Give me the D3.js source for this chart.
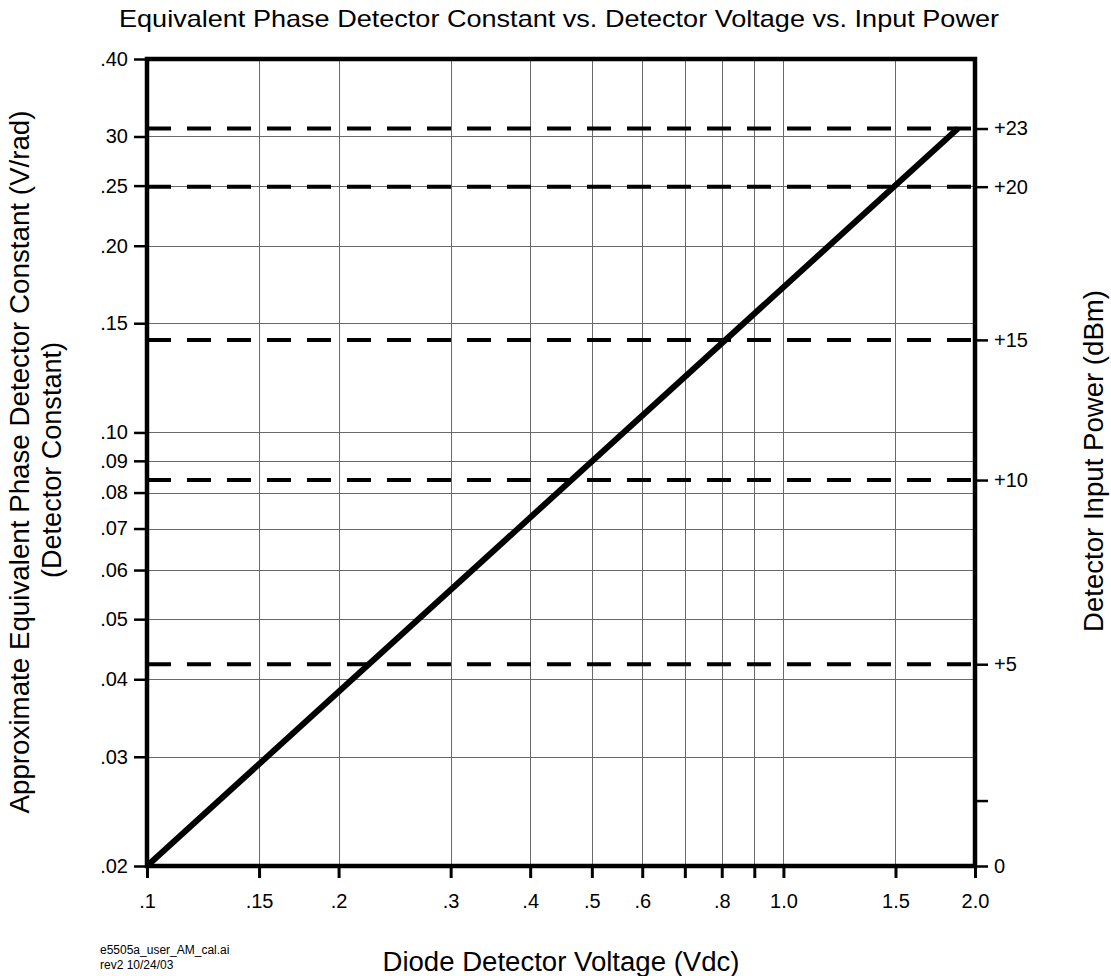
<!DOCTYPE html>
<html>
<head>
<meta charset="utf-8">
<script src="https://cdn.jsdelivr.net/npm/d3@7"></script>
<style>
  html, body { margin: 0; padding: 0; background: #fff; }
  svg { display: block; }
  text { font-family: "Liberation Sans", Arial, Helvetica, sans-serif; fill: #000; }
</style>
</head>
<body>
<svg id="chart" width="1111" height="976"></svg>
<script>
// ---- data ----
const xTicks = [0.1, 0.15, 0.2, 0.3, 0.4, 0.5, 0.6, 0.7, 0.8, 0.9, 1.0, 1.5, 2.0];
const xTickLabels = [".1", ".15", ".2", ".3", ".4", ".5", ".6", "", ".8", "", "1.0", "1.5", "2.0"];
const yTicks = [0.02, 0.03, 0.04, 0.05, 0.06, 0.07, 0.08, 0.09, 0.10, 0.15, 0.20, 0.25, 0.30, 0.40];
const yTickLabels = [".02", ".03", ".04", ".05", ".06", ".07", ".08", ".09", ".10", ".15", ".20", ".25", "30", ".40"];
const powerLabels = ["+23", "+20", "+15", "+10", "+5"];
const powerConstants = [0.309, 0.249, 0.141, 0.0838, 0.0423];
const powerExtraTicks = [0.02, 0.0255];
const powerExtraLabels = ["0", ""];
const lineVoltage = [0.1, 1.88];
const lineConstant = [0.02, 0.309];

// ---- layout ----
const L = 147, R = 975, T = 59, B = 866;
const svg = d3.select("#chart");
const x = d3.scaleLog().domain([0.1, 2.0]).range([L, R]);
const y = d3.scaleLog().domain([0.02, 0.40]).range([B, T]);
const tickFont = 20;

// grid
const grid = svg.append("g").attr("stroke", "#6a6a6a").attr("stroke-width", 1);
grid.selectAll("line.v").data(xTicks.slice(1, -1)).join("line")
  .attr("x1", d => Math.round(x(d)) + 0.5).attr("x2", d => Math.round(x(d)) + 0.5)
  .attr("y1", T).attr("y2", B);
grid.selectAll("line.h").data(yTicks.slice(1, -1)).join("line")
  .attr("y1", d => Math.round(y(d)) + 0.5).attr("y2", d => Math.round(y(d)) + 0.5)
  .attr("x1", L).attr("x2", R);

// dashed power lines
svg.append("g").selectAll("line").data(powerConstants).join("line")
  .attr("x1", L).attr("x2", R)
  .attr("y1", d => y(d)).attr("y2", d => y(d))
  .attr("stroke", "#000").attr("stroke-width", 4)
  .attr("stroke-dasharray", "24,16");

// main line
const pts = lineVoltage.map((v, i) => [v, lineConstant[i]]);
svg.append("path").datum(pts)
  .attr("d", d3.line().x(d => x(d[0])).y(d => y(d[1])))
  .attr("fill", "none").attr("stroke", "#000").attr("stroke-width", 6);

// axes
const xAxis = d3.axisBottom(x).tickValues(xTicks).tickSize(12).tickPadding(16)
  .tickFormat((d, i) => xTickLabels[i]);
const gx = svg.append("g").attr("transform", `translate(0,${B})`).call(xAxis);
gx.select(".domain").remove();
gx.selectAll(".tick line").attr("stroke-width", 3);
gx.selectAll(".tick text").attr("font-size", tickFont).attr("font-family", "Liberation Sans, Arial, sans-serif");

const yAxis = d3.axisLeft(y).tickValues(yTicks).tickSize(13).tickPadding(6)
  .tickFormat((d, i) => yTickLabels[i]);
const gy = svg.append("g").attr("transform", `translate(${L},0)`).call(yAxis);
gy.select(".domain").remove();
gy.selectAll(".tick line").attr("stroke-width", 2.5);
gy.selectAll(".tick text").attr("font-size", tickFont).attr("font-family", "Liberation Sans, Arial, sans-serif");

const rVals = powerConstants.concat(powerExtraTicks);
const rLabs = powerLabels.concat(powerExtraLabels);
const rAxis = d3.axisRight(y).tickValues(rVals).tickSize(13).tickPadding(6)
  .tickFormat((d, i) => rLabs[i]);
const gr = svg.append("g").attr("transform", `translate(${R},0)`).call(rAxis);
gr.select(".domain").remove();
gr.selectAll(".tick line").attr("stroke-width", 2.5);
gr.selectAll(".tick text").attr("font-size", tickFont).attr("font-family", "Liberation Sans, Arial, sans-serif");

// frame
svg.append("rect").attr("x", L).attr("y", T).attr("width", R - L).attr("height", B - T)
  .attr("fill", "none").attr("stroke", "#000").attr("stroke-width", 4.5);

// titles
svg.append("text").attr("x", 559).attr("y", 27).attr("text-anchor", "middle")
  .attr("font-size", 24).attr("textLength", 880).attr("lengthAdjust", "spacingAndGlyphs")
  .text("Equivalent Phase Detector Constant vs. Detector Voltage vs. Input Power");
svg.append("text").attr("x", 561).attr("y", 971).attr("text-anchor", "middle")
  .attr("font-size", 27).attr("textLength", 357).attr("lengthAdjust", "spacingAndGlyphs")
  .text("Diode Detector Voltage (Vdc)");
svg.append("text").attr("transform", "translate(29,462) rotate(-90)").attr("text-anchor", "middle")
  .attr("font-size", 27).attr("textLength", 703).attr("lengthAdjust", "spacingAndGlyphs")
  .text("Approximate Equivalent Phase Detector Constant (V/rad)");
svg.append("text").attr("transform", "translate(61,460) rotate(-90)").attr("text-anchor", "middle")
  .attr("font-size", 27).attr("textLength", 236).attr("lengthAdjust", "spacingAndGlyphs")
  .text("(Detector Constant)");
svg.append("text").attr("transform", "translate(1103,461) rotate(-90)").attr("text-anchor", "middle")
  .attr("font-size", 27).attr("textLength", 342).attr("lengthAdjust", "spacingAndGlyphs")
  .text("Detector Input Power (dBm)");

// footnote
svg.append("text").attr("x", 100).attr("y", 954).attr("font-size", 12)
  .attr("font-family", "Open Sans, sans-serif").text("e5505a_user_AM_cal.ai");
svg.append("text").attr("x", 100).attr("y", 969).attr("font-size", 12)
  .attr("font-family", "Open Sans, sans-serif").text("rev2 10/24/03");
</script>
</body>
</html>
